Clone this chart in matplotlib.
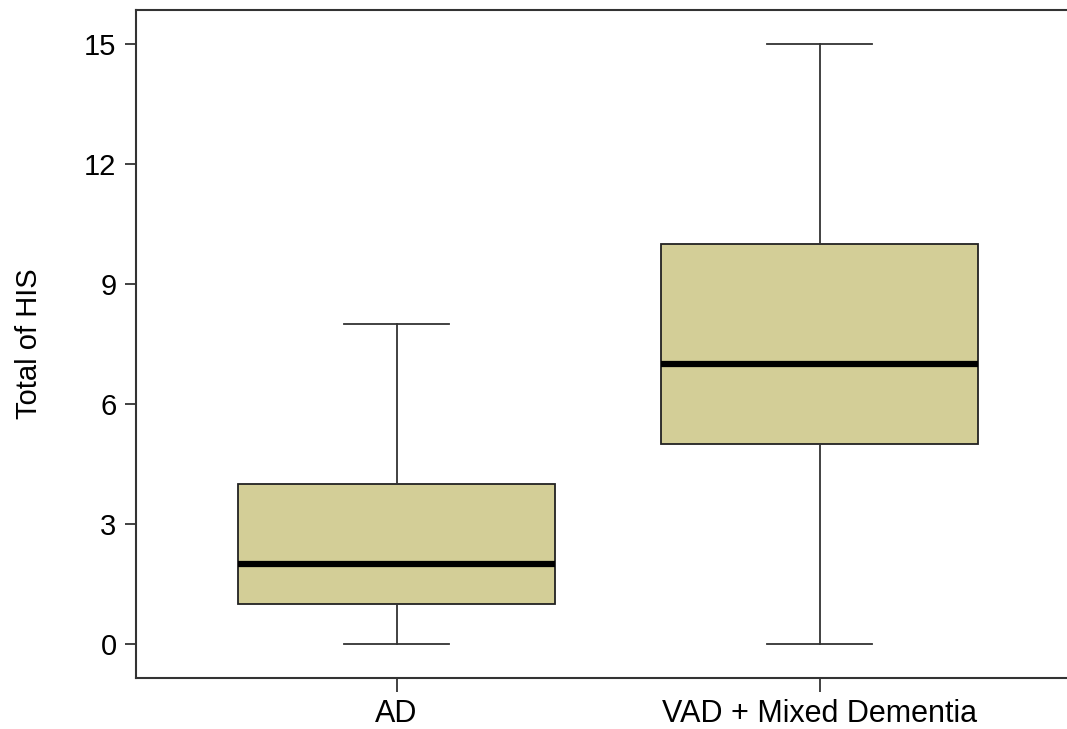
import matplotlib
matplotlib.use("Agg")
import matplotlib.pyplot as plt

plt.rcParams['font.family'] = ['Liberation Sans', 'DejaVu Sans']

groups = ['AD', 'VAD + Mixed Dementia']
mins = [0, 0]
q1s = [1, 5]
medians = [2, 7]
q3s = [4, 10]
maxs = [8, 15]

stats = []
for g, lo, a, m, b, hi in zip(groups, mins, q1s, medians, q3s, maxs):
    stats.append({'label': g, 'whislo': lo, 'q1': a, 'med': m, 'q3': b, 'whishi': hi, 'fliers': []})

fig = plt.figure(figsize=(10.67, 7.29), dpi=100)
ax = fig.add_axes([136/1067, 1 - 678/729, 1 - 136/1067 + 0.002, (678 - 10)/729])

ax.bxp(stats, positions=[1, 2], widths=0.75, patch_artist=True, showfliers=False,
       boxprops=dict(facecolor='#d3ce97', edgecolor='#222222', linewidth=1.3),
       medianprops=dict(color='black', linewidth=4.5),
       whiskerprops=dict(color='#333333', linewidth=1.3),
       capprops=dict(color='#333333', linewidth=1.3),
       capwidths=0.25)

ax.set_xlim(0.384, 2.59)
ax.set_ylim(-0.85, 15.85)
ax.set_yticks([0, 3, 6, 9, 12, 15])
ax.set_xticks([1, 2])
ax.set_xticklabels(groups)
ax.tick_params(axis='y', labelsize=21, length=8, width=1.3, color='#333333', pad=6)
ax.tick_params(axis='x', labelsize=22, length=10, width=1.3, color='#333333', pad=5)
ax.set_ylabel('Total of HIS', fontsize=21, labelpad=30)

for s in ['left', 'bottom', 'top']:
    ax.spines[s].set_linewidth(1.5)
    ax.spines[s].set_color('#333333')
ax.spines['right'].set_visible(False)

fig.savefig('out.png', dpi=100)
